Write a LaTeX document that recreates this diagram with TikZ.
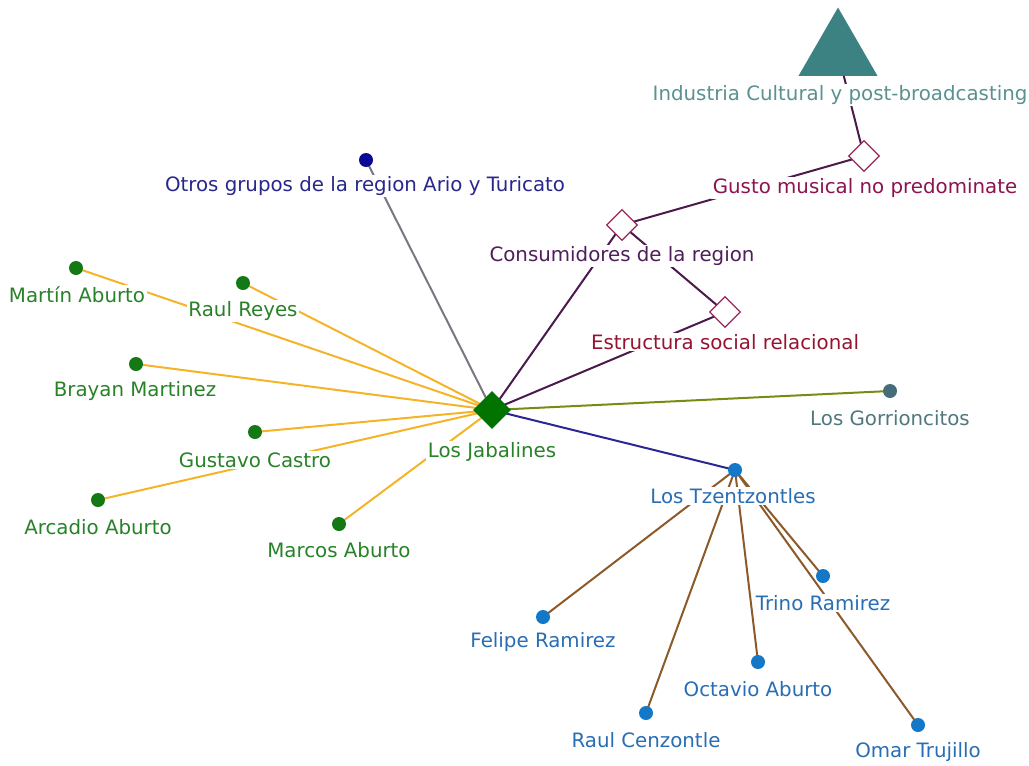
\documentclass[tikz,border=0pt]{standalone}
\usepackage{fontspec}
\setmainfont{DejaVu Sans}
\usetikzlibrary{shapes.geometric,backgrounds}
\definecolor{gdot}{RGB}{20,120,20}
\definecolor{gtext}{RGB}{40,130,40}
\definecolor{gdia}{RGB}{0,115,0}
\definecolor{oedge}{RGB}{245,180,40}
\definecolor{bdot}{RGB}{10,10,150}
\definecolor{btext}{RGB}{40,40,140}
\definecolor{gyedge}{RGB}{120,120,130}
\definecolor{pedge}{RGB}{75,25,75}
\definecolor{pdia}{RGB}{150,40,90}
\definecolor{mtext}{RGB}{140,20,80}
\definecolor{ctext}{RGB}{80,30,90}
\definecolor{etext}{RGB}{150,20,50}
\definecolor{oledge}{RGB}{120,140,20}
\definecolor{sdot}{RGB}{70,110,120}
\definecolor{stext}{RGB}{80,120,125}
\definecolor{nedge}{RGB}{40,40,150}
\definecolor{bredge}{RGB}{140,90,40}
\definecolor{tdot}{RGB}{20,120,200}
\definecolor{ttext}{RGB}{40,110,180}
\definecolor{tri}{RGB}{60,130,130}
\definecolor{tritext}{RGB}{90,145,145}
\begin{document}
\begin{tikzpicture}[x=1pt,y=-1pt,
  dot/.style={circle,inner sep=0pt,minimum size=14pt},
  lbl/.style={fill=white,inner sep=1.5pt,font=\fontsize{19.8}{21}\selectfont},
  smalldia/.style={diamond,draw=pdia,fill=white,line width=1.2pt,inner sep=0pt,minimum size=31pt},
  edgeline/.style={line width=2pt}]
\useasboundingbox (0,0) rectangle (1029,766);
% hub and concept nodes
\node[regular polygon,regular polygon sides=3,fill=tri,inner sep=0pt,minimum size=91pt] (ind) at (838,53) {};
\node[smalldia] (gus) at (864,156) {};
\node[smalldia] (con) at (622,225) {};
\node[smalldia] (est) at (725,312) {};
\node[diamond,fill=gdia,inner sep=0pt,minimum size=38pt] (jab) at (492,410) {};
% dots
\node[dot,fill=bdot] (otr) at (366,160) {};
\node[dot,fill=gdot] (mar) at (76,268) {};
\node[dot,fill=gdot] (rre) at (243,283) {};
\node[dot,fill=gdot] (bra) at (136,364) {};
\node[dot,fill=gdot] (gca) at (255,432) {};
\node[dot,fill=gdot] (arc) at (98,500) {};
\node[dot,fill=gdot] (mab) at (339,524) {};
\node[dot,fill=sdot] (gor) at (890,391) {};
\node[dot,fill=tdot] (tze) at (735,470) {};
\node[dot,fill=tdot] (fel) at (543,617) {};
\node[dot,fill=tdot] (rce) at (646,713) {};
\node[dot,fill=tdot] (oct) at (758,662) {};
\node[dot,fill=tdot] (tri) at (823,576) {};
\node[dot,fill=tdot] (oma) at (918,725) {};
% labels
\node[lbl,text=tritext] (indL) at (840,95) {Industria Cultural y post-broadcasting};
\node[lbl,text=mtext] (gusL) at (865,188) {Gusto musical no predominate};
\node[lbl,text=ctext] (conL) at (622,256) {Consumidores de la region};
\node[lbl,text=etext] (estL) at (725,342) {Estructura social relacional};
\node[lbl,text=gtext] (jabL) at (492,452) {Los Jabalines};
\node[lbl,text=btext] (otrL) at (365,186) {Otros grupos de la region Ario y Turicato};
\node[lbl,text=gtext] (marL) at (77,295) {Martín Aburto};
\node[lbl,text=gtext] (rreL) at (243,311) {Raul Reyes};
\node[lbl,text=gtext] (braL) at (135,391) {Brayan Martinez};
\node[lbl,text=gtext] (gcaL) at (255,460) {Gustavo Castro};
\node[lbl,text=gtext] (arcL) at (98,527) {Arcadio Aburto};
\node[lbl,text=gtext] (mabL) at (339,550) {Marcos Aburto};
\node[lbl,text=stext] (gorL) at (890,418) {Los Gorrioncitos};
\node[lbl,text=ttext] (tzeL) at (733,496) {Los Tzentzontles};
\node[lbl,text=ttext] (felL) at (543,642) {Felipe Ramirez};
\node[lbl,text=ttext] (rceL) at (646,740) {Raul Cenzontle};
\node[lbl,text=ttext] (octL) at (758,689) {Octavio Aburto};
\node[lbl,text=ttext] (triL) at (823,603) {Trino Ramirez};
\node[lbl,text=ttext] (omaL) at (918,752) {Omar Trujillo};
% connectors
\begin{pgfonlayer}{background}
\draw[edgeline,pedge] (ind.center) -- (gus.center);
\draw[edgeline,pedge] (con.center) -- (gus.center);
\draw[edgeline,pedge] (con.center) -- (est.center);
\draw[edgeline,pedge] (jab.center) -- (con.center);
\draw[edgeline,pedge] (jab.center) -- (est.center);
\draw[edgeline,gyedge] (jab.center) -- (otr.center);
\foreach \n in {mar,rre,bra,gca,arc,mab}
  \draw[edgeline,oedge] (jab.center) -- (\n.center);
\draw[edgeline,oledge] (jab.center) -- (gor.center);
\draw[edgeline,nedge] (jab.center) -- (tze.center);
\foreach \n in {fel,rce,oct,tri,oma}
  \draw[edgeline,bredge] (tze.center) -- (\n.center);
\end{pgfonlayer}
\end{tikzpicture}
\end{document}
